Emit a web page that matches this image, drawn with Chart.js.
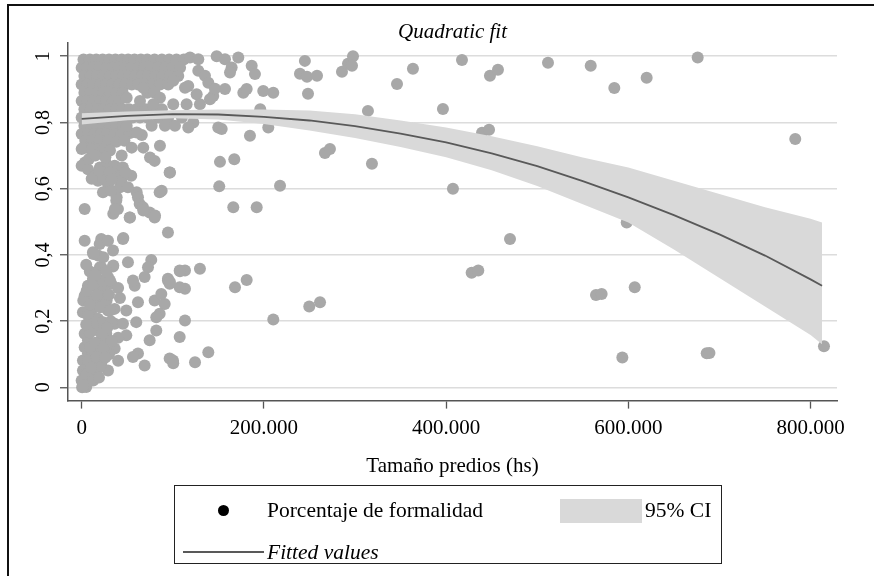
<!DOCTYPE html>
<html>
<head>
<meta charset="utf-8">
<script src="https://cdn.jsdelivr.net/npm/chart.js@4.4.0/dist/chart.umd.min.js"></script>
<style>
  html, body { margin: 0; padding: 0; background: #fff; overflow: hidden; }
  #wrap { position: relative; width: 874px; height: 576px; overflow: hidden; }
  #frame { position: absolute; left: 7px; top: 4px; width: 900px; height: 600px; border: 2px solid #111; }
  #chart { position: absolute; left: 0; top: 0; }
  .serif { font-family: 'Liberation Serif', 'Times New Roman', serif; color: #000; }
  .legbox { position: absolute; left: 174px; top: 485px; width: 548px; height: 79px; border: 1px solid #222; box-sizing: border-box; }
  .txt { position: absolute; font-size: 21.5px; line-height: 21.5px; white-space: nowrap; }
  .dot { position: absolute; left: 218px; top: 505px; width: 11px; height: 11px; border-radius: 50%; background: #000; }
  .swatch { position: absolute; left: 560px; top: 499px; width: 82px; height: 24px; background: #d9d9d9; }
  .fitline { position: absolute; left: 183px; top: 551px; width: 81px; height: 2px; background: #595959; }
</style>
</head>
<body>
<div id="wrap">
  <div id="frame"></div>
  <canvas id="chart" width="874" height="576"></canvas>
  <div class="legbox"></div>
  <div class="dot"></div>
  <div class="txt serif" style="left:267px; top:500px;">Porcentaje de formalidad</div>
  <div class="swatch"></div>
  <div class="txt serif" style="left:645px; top:500px;">95% CI</div>
  <div class="fitline"></div>
  <div class="txt serif" style="left:267px; top:542px; font-style:italic;">Fitted values</div>
</div>
<script>
const SERIF = "'Liberation Serif', 'Times New Roman', serif";

// axis ticks
const xTicks = [0, 200000, 400000, 600000, 800000];
const xTickLabels = ['0', '200.000', '400.000', '600.000', '800.000'];
const yTicks = [0, 0.2, 0.4, 0.6, 0.8, 1];
const yTickLabels = ['0', '0,2', '0,4', '0,6', '0,8', '1'];

// [tamaño (hs), porcentaje de formalidad] - dense block near the origin, high formality
const nubeSuperior = [
  [2000,0.99],[9000,0.99],[16000,0.99],[23000,0.99],[30000,0.99],[37000,0.99],[44000,0.99],[51000,0.99],
  [58000,0.99],[65000,0.99],[72000,0.99],[80000,0.99],[88000,0.99],[96000,0.99],[104000,0.99],[112000,0.99],
  [0,0.965],[6000,0.965],[13000,0.965],[20000,0.965],[27000,0.965],[34000,0.965],[41000,0.965],[48000,0.965],
  [55000,0.965],[62000,0.965],[69000,0.965],[76000,0.965],[84000,0.965],[92000,0.965],[100000,0.965],[108000,0.965],
  [3000,0.94],[10000,0.94],[17000,0.94],[24000,0.94],[31000,0.94],[38000,0.94],[45000,0.94],[52000,0.94],
  [59000,0.94],[66000,0.94],[73000,0.94],[81000,0.94],[89000,0.94],[97000,0.94],[106000,0.94],
  [0,0.915],[6000,0.915],[13000,0.915],[20000,0.915],[27000,0.915],[34000,0.915],[41000,0.915],[48000,0.915],
  [55000,0.915],[62000,0.915],[70000,0.915],[78000,0.915],[86000,0.915],[95000,0.915],
  [3000,0.89],[10000,0.89],[17000,0.89],[24000,0.89],[31000,0.89],[38000,0.89],[45000,0.89],[72000,0.89],[80000,0.89],
  [0,0.865],[6000,0.865],[13000,0.865],[20000,0.865],[27000,0.865],[34000,0.865],[41000,0.865],
  [3000,0.84],[10000,0.84],[17000,0.84],[24000,0.84],[31000,0.84],[38000,0.84],[45000,0.84],[52000,0.84],
  [60000,0.84],[70000,0.84],[80000,0.84],[88000,0.84],
  [0,0.815],[6000,0.815],[13000,0.815],[20000,0.815],[27000,0.815],[34000,0.815],[41000,0.815],[48000,0.815],
  [56000,0.815],[64000,0.815],[72000,0.815],[84000,0.815],[95000,0.815],[110000,0.815],
  [3000,0.79],[10000,0.79],[17000,0.79],[24000,0.79],[31000,0.79],[38000,0.79],[45000,0.792],
  [0,0.765],[7000,0.765],[14000,0.765],[21000,0.765],[28000,0.765],[36000,0.765],[44000,0.765],[53000,0.768],[66000,0.762],
  [4000,0.745],[12000,0.745],[20000,0.745],[29000,0.745],[38000,0.742],[47000,0.745],
  [0,0.72],[8000,0.722],[17000,0.718],[24000,0.72]
];

// points between 100k and 300k hs, plus scattered mid-range near the origin
const nubeMedia = [
  [118900,0.996],[128000,0.991],[148200,1.0],[157300,0.991],[171900,0.996],[164600,0.966],[162800,0.951],
  [186600,0.971],[190200,0.946],[128000,0.956],[135300,0.941],[139000,0.920],[117000,0.910],[126200,0.885],
  [144400,0.880],[157300,0.901],[177400,0.890],[181100,0.901],[199300,0.895],[210300,0.890],[146300,0.902],
  [113400,0.905],[100500,0.926],[85900,0.875],[67600,0.905],[64000,0.865],[49400,0.875],[78600,0.855],
  [100500,0.855],[129800,0.855],[140800,0.870],[115200,0.855],[122500,0.800],[149900,0.785],[196000,0.840],
  [117000,0.785],[153700,0.780],[184700,0.760],[204800,0.785],[151800,0.681],[167500,0.689],[151000,0.607],
  [166400,0.544],[192100,0.544],[129800,0.358],[168300,0.302],[181100,0.324],[113400,0.202],[124400,0.076],
  [139000,0.106],[210300,0.205],[249800,0.244],[261600,0.257],[113400,0.353],[113400,0.298],[107900,0.351],
  [49400,0.790],[60400,0.770],[76800,0.790],[91400,0.790],[102400,0.790],[54900,0.724],[67600,0.724],
  [85900,0.730],[31100,0.715],[43900,0.700],[75000,0.694],[1800,0.724],[11000,0.720],[3600,0.679],
  [20000,0.664],[27400,0.674],[38400,0.664],[49400,0.644],[96900,0.649],[87800,0.594],[42000,0.604],
  [27400,0.624],[60400,0.589],[38400,0.574]
];

// lower part of the cloud, x below 110k hs
const nubeInferior = [
  [0,0.669],[6900,0.659],[14300,0.639],[17900,0.624],[25200,0.664],[23400,0.634],[28900,0.614],[36200,0.669],
  [39800,0.644],[45300,0.664],[43500,0.624],[54400,0.639],[50800,0.604],[23400,0.589],[32500,0.594],[38000,0.564],
  [39800,0.539],[52700,0.513],[61800,0.574],[63700,0.554],[67300,0.544],[74600,0.528],[80100,0.513],[3300,0.539],
  [85600,0.589],[96600,0.649],[80100,0.684],[94700,0.468],[3300,0.443],[21500,0.448],[19800,0.433],[28900,0.443],
  [45300,0.448],[12400,0.408],[17900,0.398],[34400,0.413],[50800,0.378],[21500,0.363],[34400,0.365],[76400,0.385],
  [72800,0.363],[107600,0.353],[28900,0.333],[69100,0.333],[94700,0.328],[12400,0.328],[6900,0.307],[21500,0.313],
  [32500,0.313],[3300,0.277],[14300,0.272],[23400,0.267],[1400,0.227],[10500,0.222],[28900,0.232],[58200,0.307],
  [56300,0.323],[61800,0.257],[49000,0.232],[80100,0.262],[91100,0.252],[85600,0.222],[87400,0.282],[96600,0.313],
  [107600,0.302],[81900,0.212],[94700,0.323],[3300,0.162],[17900,0.172],[27000,0.162],[36200,0.192],[45300,0.192],
  [49000,0.157],[59900,0.197],[81900,0.172],[74600,0.142],[107600,0.152],[36200,0.117],[19800,0.112],[6900,0.102],
  [61800,0.102],[56300,0.092],[69100,0.066],[100200,0.081],[96600,0.087],[28900,0.051],[21500,0.071],[6900,0.046],
  [0,0.021],[10500,0.021],[5000,0.001],[500,0.0],[1400,0.081],[3300,0.121],[1400,0.051],[14300,0.081],
  [14300,0.121],[25200,0.142],[6900,0.142],[17900,0.207],[23400,0.197],[16000,0.247],[25200,0.242],[36200,0.237],
  [2000,0.006],[4000,0.012],[8000,0.030],[12000,0.040],[15000,0.055],[18000,0.060],[11000,0.095],[100500,0.073],
  [96900,0.318],[34700,0.368],[45700,0.451],[34700,0.524],[36500,0.539],[53000,0.513],[67600,0.534],[80500,0.519],
  [7200,0.217],[9100,0.121],[7200,0.081],[16500,0.091],[20000,0.061],[5500,0.041],[12700,0.021],[1800,0.006],
  [1800,0.262],[5500,0.292],[12700,0.307],[23700,0.292],[27400,0.262],[20000,0.242],[31100,0.232],[23700,0.323],
  [31100,0.323],[20000,0.363],[23700,0.393],[12700,0.403],
  [9000,0.350],[15000,0.340],[27000,0.350],[5000,0.370],[17000,0.280],[30000,0.280],[40000,0.300],[42000,0.270],
  [9000,0.250],[32000,0.200],[12000,0.190],[28000,0.180],[22000,0.160],[9000,0.165],[40000,0.150],[30000,0.100],
  [40000,0.080],[15000,0.135],[5000,0.190],[24000,0.120],[33000,0.140],[19000,0.030],[26000,0.090],[10000,0.060],
  [11000,0.630],[19000,0.655],[31000,0.650],[33000,0.628],[48000,0.650],[8000,0.690],[15000,0.700],[26000,0.695]
];

// isolated large holdings
const dispersos = [
  [245000,0.986],[239600,0.947],[247300,0.938],[258300,0.941],[248400,0.887],[285700,0.953],[292300,0.977],
  [297800,1.0],[296700,0.971],[314200,0.835],[267000,0.708],[272500,0.720],[318600,0.675],[217700,0.609],
  [346100,0.916],[363600,0.962],[417400,0.989],[396500,0.841],[448100,0.941],[456900,0.959],[439400,0.769],
  [447100,0.778],[407500,0.600],[511800,0.980],[558700,0.971],[584600,0.904],[620100,0.935],[676100,0.996],
  [783200,0.750],[564500,0.279],[570700,0.282],[607000,0.302],[593400,0.090],[686000,0.103],[689000,0.104],
  [814700,0.124],[598200,0.498],[470100,0.448],[428000,0.346],[435300,0.353]
];

// quadratic fit and 95% CI
const fitX = [0,50000,100000,150000,200000,250000,300000,350000,400000,450000,500000,550000,600000,650000,700000,750000,800000,812600];
const fitY = [0.811,0.820,0.825,0.824,0.817,0.806,0.789,0.766,0.740,0.707,0.668,0.623,0.574,0.520,0.462,0.398,0.326,0.307];
const ciHigh = [0.828,0.833,0.837,0.839,0.839,0.836,0.825,0.806,0.785,0.758,0.728,0.694,0.664,0.624,0.584,0.544,0.509,0.498];
const ciLow = [0.794,0.807,0.813,0.809,0.795,0.776,0.753,0.726,0.695,0.656,0.608,0.553,0.498,0.416,0.330,0.244,0.158,0.130];

const puntos = nubeSuperior.concat(nubeMedia, nubeInferior, dispersos).map(p => ({ x: p[0], y: p[1] }));
const toXY = arr => arr.map((v, i) => ({ x: fitX[i], y: v }));

const ctx = document.getElementById('chart').getContext('2d');
new Chart(ctx, {
  type: 'scatter',
  data: {
    datasets: [
      {
        label: 'Porcentaje de formalidad',
        data: puntos,
        backgroundColor: '#a8a8a8',
        borderWidth: 0,
        pointRadius: 6,
        pointHoverRadius: 6,
        order: 3
      },
      {
        type: 'line',
        label: '95% CI',
        data: toXY(ciHigh),
        fill: '+1',
        backgroundColor: '#d9d9d9',
        borderColor: 'rgba(0,0,0,0)',
        borderWidth: 0,
        pointRadius: 0,
        tension: 0,
        order: 2
      },
      {
        type: 'line',
        label: 'ci low',
        data: toXY(ciLow),
        fill: false,
        borderColor: 'rgba(0,0,0,0)',
        borderWidth: 0,
        pointRadius: 0,
        tension: 0,
        order: 2
      },
      {
        type: 'line',
        label: 'Fitted values',
        data: toXY(fitY),
        fill: false,
        borderColor: '#595959',
        borderWidth: 1.8,
        pointRadius: 0,
        tension: 0,
        order: 1
      }
    ]
  },
  options: {
    responsive: false,
    animation: false,
    events: [],
    layout: { padding: { left: 0, right: 37, top: 22, bottom: 97.4 } },
    plugins: {
      legend: { display: false },
      tooltip: { enabled: false },
      title: {
        display: true,
        text: 'Quadratic fit',
        fullSize: false,
        color: '#000',
        font: { family: SERIF, size: 21, style: 'italic', weight: 'normal', lineHeight: 1 },
        padding: { top: 0, bottom: 0 }
      }
    },
    scales: {
      x: {
        type: 'linear',
        min: -15000,
        max: 829000,
        afterBuildTicks: s => { s.ticks = xTicks.map(v => ({ value: v })); },
        ticks: {
          callback: v => xTickLabels[xTicks.indexOf(v)],
          color: '#000',
          font: { family: SERIF, size: 21, lineHeight: 1.2 },
          padding: 7.4,
          maxRotation: 0
        },
        grid: { drawOnChartArea: false, tickLength: 8, tickColor: '#555', tickWidth: 1.3 },
        border: { color: '#555', width: 1.5 },
        title: {
          display: true,
          text: 'Tamaño predios (hs)',
          color: '#000',
          font: { family: SERIF, size: 21, lineHeight: 1.2 },
          padding: { top: 4.8, bottom: 0 }
        }
      },
      y: {
        type: 'linear',
        min: -0.04,
        max: 1.04,
        afterBuildTicks: s => { s.ticks = yTicks.map(v => ({ value: v })); },
        afterFit: s => { s.width = 68; },
        ticks: {
          callback: v => yTickLabels[yTicks.indexOf(v)],
          color: '#000',
          font: { family: SERIF, size: 20 },
          minRotation: 90,
          maxRotation: 90,
          crossAlign: 'center',
          padding: 4
        },
        grid: { color: '#dcdcdc', lineWidth: 1.5, tickLength: 8, tickColor: '#555', tickWidth: 1.3 },
        border: { color: '#555', width: 1.5 }
      }
    }
  }
});
</script>
</body>
</html>
